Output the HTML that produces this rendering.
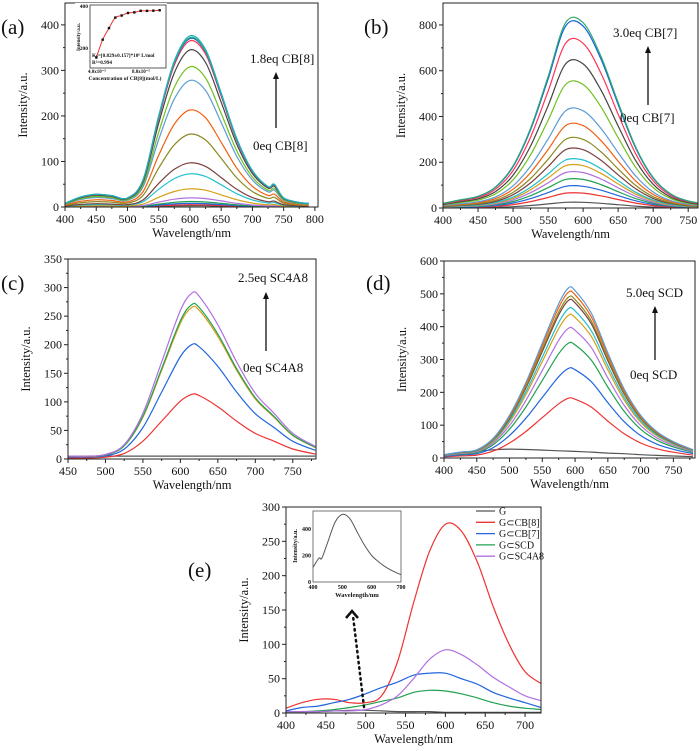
<!DOCTYPE html>
<html><head><meta charset="utf-8">
<style>
html,body{margin:0;padding:0;background:#fff;}
svg{display:block;font-family:"Liberation Serif",serif;}
</style></head>
<body>
<svg id="fig" width="700" height="747" viewBox="0 0 700 747"></svg>
<script>
// ---------- DATA ----------
const waveA = [400,425,450,475,500,525,550,575,600,625,650,675,700,725,735,750,775,790];
const shapeA = [8,22,28,25,20,60,200,320,375,345,250,150,80,45,50,20,10,8];
const peaksA = [3,5,8,12,20,40,73,97,160,213,278,308,345,365,370,372,376];

const waveB = [400,425,450,475,500,525,550,575,600,625,650,675,700,725,750,780];
const shapeB = [20,35,50,90,180,340,560,790,790,650,450,260,130,60,30,15];
const peaksB = [25,65,95,125,155,185,210,255,300,360,425,540,630,720,795,810];

const waveC = [450,475,500,525,550,575,600,615,625,650,675,700,725,750,780];
const shapeC = [5,5,8,25,80,170,260,290,285,235,170,115,80,45,22];
const peaksC = [5,113,200,265,270,290];

const waveD = [400,425,450,475,500,525,550,575,590,600,625,650,675,700,725,750,780];
const shapeD = [10,18,25,60,130,230,350,470,518,510,440,320,210,130,80,50,25];
const peaksD = [25,182,273,350,395,435,455,480,490,505,518];
const grayD = [10,15,20,25,27,26,24,22,21,20,18,15,13,10,8,6,4];

const waveE = [400,420,440,460,480,500,520,540,560,580,600,620,640,660,680,700,720];
const serG   = [2,2,2,3,4,4,3,2,2,2,1,1,1,1,1,1,1];
const serCB8 = [7,15,20,20,15,15,25,75,160,235,275,265,220,155,100,60,43];
const serCB7 = [3,8,10,15,20,28,37,45,55,58,58,50,42,30,22,15,8];
const serSCD = [2,2,3,5,8,12,17,22,30,33,32,28,22,15,10,7,5];
const serSC4 = [2,2,2,3,3,5,12,25,50,78,92,85,70,52,38,25,18];
const legendE = ["G","G⊂CB[8]","G⊂CB[7]","G⊂SCD","G⊂SC4A8"];

const insetWave = [400,420,430,450,475,500,525,550,575,600,625,650,675,700];
const insetVals = [110,180,180,300,450,510,480,380,280,200,150,110,80,55];
const insetAx = [0.05,0.06,0.07,0.08,0.09,0.1,0.11,0.12,0.13,0.14,0.15];
const insetAy = [150,235,290,340,350,362,365,372,372,373,375];

// ---------- HELPERS ----------
const NS="http://www.w3.org/2000/svg";
const svg=document.getElementById('fig');
function mk(tag,attrs,parent){const e=document.createElementNS(NS,tag);for(const k in attrs)e.setAttribute(k,attrs[k]);(parent||svg).appendChild(e);return e;}
function txt(x,y,s,size,anchor,parent,extra){const t=mk('text',Object.assign({x:x,y:y,'font-size':size,'text-anchor':anchor||'start',fill:'#111'},extra||{}),parent);t.textContent=s;return t;}
function smooth(pts){
  let d='M'+pts[0][0].toFixed(1)+','+pts[0][1].toFixed(1);
  for(let i=0;i<pts.length-1;i++){
    const p0=pts[Math.max(0,i-1)],p1=pts[i],p2=pts[i+1],p3=pts[Math.min(pts.length-1,i+2)];
    const c1=[p1[0]+(p2[0]-p0[0])/6,p1[1]+(p2[1]-p0[1])/6];
    const c2=[p2[0]-(p3[0]-p1[0])/6,p2[1]-(p3[1]-p1[1])/6];
    d+='C'+c1[0].toFixed(1)+','+c1[1].toFixed(1)+' '+c2[0].toFixed(1)+','+c2[1].toFixed(1)+' '+p2[0].toFixed(1)+','+p2[1].toFixed(1);
  }
  return d;
}
const palette=['#555555','#ee3333','#2266dd','#22a050','#b070e0','#d4a017','#20c0d0','#7b3f3f','#8a8a20','#f06010','#5b9bd5','#70c020','#444444','#ff3355','#1060e0','#30a870','#20b0c0'];

function panel(P){
  const g=mk('g',{});
  
  
  const sx=v=>P.L+(v-P.x0)/(P.x1-P.x0)*(P.R-P.L);
  const sy=v=>P.B-(v-P.y0)/(P.y1-P.y0)*(P.B-P.T);
  const clip=mk('clipPath',{id:'clip-'+P.name},g);
  mk('rect',{x:P.L,y:P.T,width:P.R-P.L,height:P.B-P.T},clip);
  const sg=mk('g',{'clip-path':`url(#clip-${P.name})`},g);
  P.series.forEach((s,i)=>{
    const pts=s.w.map((w,k)=>[sx(w),sy(s.v[k])]);
    const p=mk('path',{d:smooth(pts),fill:'none',stroke:s.c,'stroke-width':1.2,'stroke-linejoin':'round'},sg);
    
    
  });
  const fr=mk('rect',{x:P.L,y:P.T,width:P.R-P.L,height:P.B-P.T,fill:'none',stroke:'#222','stroke-width':1},g);
  
  
  P.xt.forEach(v=>{const x=sx(v);mk('line',{x1:x,x2:x,y1:P.B,y2:P.B+4,stroke:'#222'},g);
    const t=txt(x,P.B+16,String(v),P.fs||12,'middle',g);});
  P.xt.forEach((v,i)=>{if(i<P.xt.length){const x=sx(v+(P.xt[1]-P.xt[0])/2);if(x<P.R)mk('line',{x1:x,x2:x,y1:P.B,y2:P.B+2,stroke:'#222'},g);}});
  P.yt.forEach(v=>{const y=sy(v);mk('line',{x1:P.L-4,x2:P.L,y1:y,y2:y,stroke:'#222'},g);
    const t=txt(P.L-6,y+4,String(v),P.fs||12,'end',g);});
  P.yt.forEach(v=>{const y=sy(v+(P.yt[1]-P.yt[0])/2);if(y>P.T)mk('line',{x1:P.L-2,x2:P.L,y1:y,y2:y,stroke:'#222'},g);});
  const xtit=txt((P.L+P.R)/2,P.B+30,'Wavelength/nm',12.5,'middle',g);
  
  const yx=P.L-38,yy=(P.T+P.B)/2;
  const ytit=txt(yx,yy,'Intensity/a.u.',12.5,'middle',g,{transform:`rotate(-90 ${yx} ${yy})`});
  
  const lab=txt(P.lx,P.ly,P.label,21,'start',g);
  
  return {g,sx,sy};
}
function scaled(wave,shape,peak){const m=Math.max(...shape);return {w:wave,v:shape.map(s=>s/m*peak)};}
function annot(ax,top,bottom,y1,y2,x1,yt1,x2,yt2){
  const ga=mk('g',{});
  
  
  mk('line',{x1:ax,x2:ax,y1:y1,y2:y2+5,stroke:'#111','stroke-width':1.3},ga);
  mk('path',{d:`M${ax-3},${y2+7}L${ax},${y2}L${ax+3},${y2+7}Z`,fill:'#111'},ga);
  const a=txt(x1,yt1,top,13,'start',ga);
  const b=txt(x2,yt2,bottom,13,'start',ga);
}

// ---------- PANEL A ----------
panel({name:'panel-a',L:65,R:318,T:3,B:207,x0:400,x1:805,y0:0,y1:448,xt:[400,450,500,550,600,650,700,750,800],yt:[0,100,200,300,400],label:'(a)',lx:1,ly:34,
  series:peaksA.map((p,i)=>Object.assign(scaled(waveA,shapeA,p),{c:palette[i%palette.length],n:'a'+i}))});
annot(276,'1.8eq CB[8]','0eq CB[8]',128,72,250,63,253,150);
(function(){
  const g=mk('g',{});
  const L=90,R=166,T=5,B=68;
  mk('rect',{x:75,y:3,width:92,height:79,fill:'#fff',stroke:'none'},g);
  mk('rect',{x:L,y:T,width:R-L,height:B-T,fill:'none',stroke:'#333','stroke-width':0.8},g);
  const sx=v=>L+(v-0.04)/(0.16-0.04)*(R-L), sy=v=>B-(v-100)/(300)*(B-T);
  const pts=insetAx.map((x,i)=>[sx(x),sy(insetAy[i])]);
  mk('path',{d:smooth(pts),fill:'none',stroke:'#e33','stroke-width':1},g);
  insetAx.forEach((x,i)=>mk('rect',{x:sx(x)-1.2,y:sy(insetAy[i])-1.2,width:2.4,height:2.4,fill:'#111'},g));
  txt(L-2,sy(400)+3,'400',5.5,'end',g,{'font-weight':'bold'});txt(L-2,sy(200)+3,'200',5.5,'end',g,{'font-weight':'bold'});
  txt(97,73,'4.0x10⁻⁵',5,'middle',g,{'font-weight':'bold'});txt(141,73,'8.0x10⁻⁵',5,'middle',g,{'font-weight':'bold'});
  txt(125,80,'Concentration of CB[8](mol/L)',5.5,'middle',g,{'font-weight':'bold'});
  txt(92,57,'Kₛ=[0.829±0.157]*10⁶ L/mol',5.2,'start',g,{'font-weight':'bold'});
  txt(92,64,'R²=0.994',5.2,'start',g,{'font-weight':'bold'});
  txt(80,37,'Intensity/a.u.',5,'middle',g,{transform:'rotate(-90 80 37)','font-weight':'bold'});
})();

// ---------- PANEL B ----------
panel({name:'panel-b',L:443,R:698,T:3,B:208,x0:400,x1:764,y0:0,y1:896,xt:[400,450,500,550,600,650,700,750],yt:[0,200,400,600,800],label:'(b)',lx:364,ly:34,
  series:peaksB.map((p,i)=>Object.assign(scaled(waveB,shapeB,p),{c:palette[i%palette.length],n:'b'+i}))});
annot(648,'3.0eq CB[7]','0eq CB[7]',105,46,613,37,620,122);

// ---------- PANEL C ----------
const colC=['#555555','#ee3333','#2266dd','#d4a017','#22a050','#b070e0'];
panel({name:'panel-c',L:68,R:316,T:259,B:459,x0:450,x1:781,y0:0,y1:350,xt:[450,500,550,600,650,700,750],yt:[0,50,100,150,200,250,300,350],label:'(c)',lx:1,ly:290,
  series:peaksC.map((p,i)=>i===0?{w:waveC,v:waveC.map(()=>p),c:colC[0],n:'c0'}:Object.assign(scaled(waveC,shapeC,p),{c:colC[i],n:'c'+i}))});
annot(266,'2.5eq SC4A8','0eq SC4A8',351,292,238,282,243,372);

// ---------- PANEL D ----------
const colD=['#555555','#ee3333','#2266dd','#22a050','#b070e0','#d4a017','#20c0d0','#7b3f3f','#8a8a20','#f06010','#5b9bd5'];
panel({name:'panel-d',L:444,R:695,T:261,B:458,x0:400,x1:783,y0:0,y1:600,xt:[400,450,500,550,600,650,700,750],yt:[0,100,200,300,400,500,600],label:'(d)',lx:366,ly:290,
  series:peaksD.map((p,i)=>i===0?{w:waveD,v:grayD,c:colD[0],n:'d0'}:Object.assign(scaled(waveD,shapeD,p),{c:colD[i],n:'d'+i}))});
annot(655,'5.0eq SCD','0eq SCD',360,306,626,297,630,379);

// ---------- PANEL E ----------
const colE=['#555555','#ee3333','#2266dd','#22a050','#b070e0'];
const serE=[serG,serCB8,serCB7,serSCD,serSC4];
panel({name:'panel-e',L:286,R:541,T:507,B:713,x0:400,x1:720,y0:0,y1:300,xt:[400,450,500,550,600,650,700],yt:[0,50,100,150,200,250,300],label:'(e)',lx:188,ly:577,
  series:serE.map((v,i)=>({w:waveE,v:v,c:colE[i],n:'e-'+legendE[i]}))});
legendE.forEach((s,i)=>{
  const g=mk('g',{});
  
  
  const y=511+i*11.3;
  mk('line',{x1:476,x2:495,y1:y,y2:y,stroke:colE[i],'stroke-width':1.3},g);
  txt(499,y+3.5,s,10,'start',g);
});
(function(){
  const g=mk('g',{});
  mk('line',{x1:364,y1:707,x2:353,y2:616,stroke:'#111','stroke-width':2.5,'stroke-dasharray':'1.5 4','stroke-linecap':'round'},g);
  mk('path',{d:'M346,618L352,611L358,618',fill:'none',stroke:'#111','stroke-width':2.5},g);
})();
(function(){
  const g=mk('g',{});
  const L=313,R=401,T=511,B=582;
  mk('rect',{x:L,y:T,width:R-L,height:B-T,fill:'#fff',stroke:'#555','stroke-width':0.8},g);
  const sx=v=>L+(v-400)/300*(R-L), sy=v=>B-v/536*(B-T);
  const pts=insetWave.map((w,i)=>[sx(w),sy(insetVals[i])]);
  mk('path',{d:smooth(pts),fill:'none',stroke:'#555','stroke-width':1},g);
  [0,200,400].forEach(v=>txt(L-2,sy(v)+2,String(v),6,'end',g,{'font-weight':'bold'}));
  [400,500,600,700].forEach(v=>txt(sx(v),B+7,String(v),6,'middle',g,{'font-weight':'bold'}));
  txt(357,597,'Wavelength/nm',6.5,'middle',g,{'font-weight':'bold'});
  txt(297,546,'Intensity/a.u.',6,'middle',g,{transform:'rotate(-90 297 546)','font-weight':'bold'});
})();
</script>
</body></html>
